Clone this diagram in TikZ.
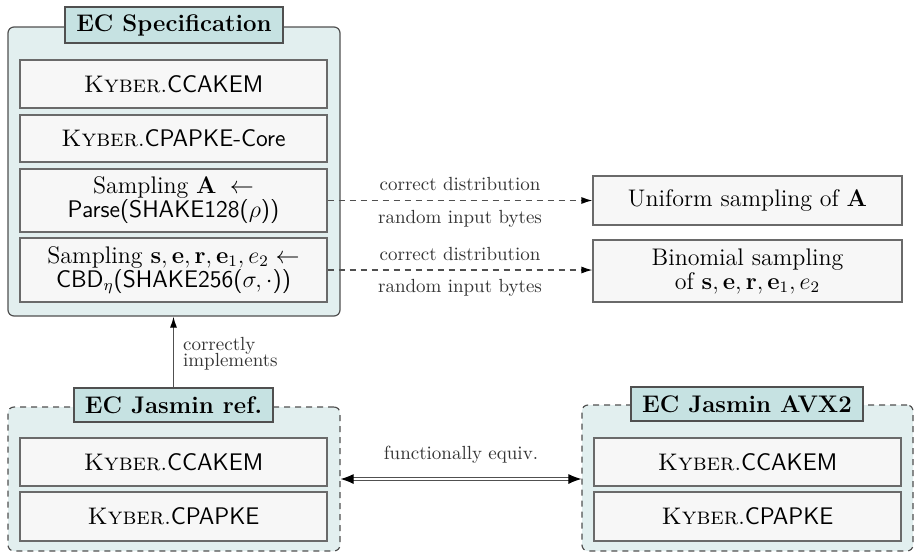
\documentclass[tikz,border=0pt]{standalone}
\usepackage{amsmath}
\usetikzlibrary{arrows.meta,fit}
\definecolor{boxfill}{HTML}{E2EFEF}
\definecolor{titlefill}{HTML}{C6E2E2}
\definecolor{partfill}{HTML}{F7F7F7}
\definecolor{edge}{HTML}{505050}
\definecolor{partedge}{HTML}{6A6A6A}
\definecolor{labelgray}{HTML}{333333}
\newcommand{\kyb}[1]{\textsc{Kyber}.\textsf{#1}}
\tikzset{
  outerbox/.style={draw=edge, fill=boxfill, rounded corners=3pt, line width=0.6pt, inner sep=0pt},
  dashedbox/.style={outerbox, dash pattern=on 3pt off 2.5pt},
  titlebox/.style={draw=edge, fill=titlefill, line width=0.6pt, font=\large\bfseries, inner sep=0pt},
  partbox/.style={draw=partedge, fill=partfill, line width=0.6pt, font=\large, align=center,
    inner sep=0pt, minimum width=153.5pt},
  edgelabel/.style={font=\fontsize{9.5}{11}\selectfont, text=labelgray, inner sep=1.5pt},
  flow/.style={draw=edge, line width=0.6pt, -{Latex[length=5.5pt,width=3.5pt,black]}},
  equiv/.style={draw=edge, line width=0.5pt, double distance=1.3pt,
    {Latex[length=6.5pt,width=5pt,black]}-{Latex[length=6.5pt,width=5pt,black]}},
}
\begin{document}
\begin{tikzpicture}[x=0.5pt, y=-0.5pt]
\useasboundingbox (0,0) rectangle (915,553);

% specification container
\coordinate (spa) at (8,27);
\coordinate (spb) at (340,316);
\node[outerbox, fit=(spa)(spb)] (spec) {};
\node[titlebox, minimum width=109pt, minimum height=18pt] (spectitle) at (174,25) {EC Specification};
\node[partbox, minimum height=24pt] (scca) at (173.5,84) {\kyb{CCAKEM}};
\node[partbox, minimum height=23.5pt] (scpa) at (173.5,138.5) {\kyb{CPAPKE-Core}};
\node[partbox, minimum height=31.5pt] (samA) at (173.5,200.5)
  {Sampling $\mathbf{A}\;\leftarrow$\\[-2pt] \textsf{Parse(SHAKE128(}$\rho$\textsf{))}};
\node[partbox, minimum height=32pt] (samS) at (173.5,270)
  {Sampling $\mathbf{s},\mathbf{e},\mathbf{r},\mathbf{e}_1,e_2\leftarrow$\\[-2pt]
   $\mathsf{CBD}_\eta$\textsf{(SHAKE256(}$\sigma,\cdot$\textsf{))}};

% ideal distributions
\node[partbox, minimum width=154.5pt, minimum height=24.5pt] (unif) at (747.5,200.5) {Uniform sampling of $\mathbf{A}$};
\node[partbox, minimum width=154.5pt, minimum height=31pt] (binom) at (747.5,271)
  {Binomial sampling\\[-2pt] of $\mathbf{s},\mathbf{e},\mathbf{r},\mathbf{e}_1,e_2$};

\draw[flow, dash pattern=on 3pt off 2.5pt] (samA.east) -- (unif.west)
  node[midway, above=3pt, edgelabel] {correct distribution}
  node[midway, below=3pt, edgelabel] {random input bytes};
\draw[flow, dash pattern=on 3pt off 2.5pt] (samS.east) -- (samS.east -| binom.west)
  node[midway, above=3pt, edgelabel] {correct distribution}
  node[midway, below=3pt, edgelabel] {random input bytes};

% Jasmin reference implementation
\coordinate (jra) at (8,407);
\coordinate (jrb) at (340,551);
\node[dashedbox, fit=(jra)(jrb)] (jref) {};
\node[titlebox, minimum width=99.5pt, minimum height=17pt] (jreftitle) at (173.5,405) {EC Jasmin ref.};
\node[partbox, minimum height=24pt] (jcca) at (173.5,462) {\kyb{CCAKEM}};
\node[partbox, minimum height=24.5pt] (jcpa) at (173.5,516.5) {\kyb{CPAPKE}};

% Jasmin AVX2 implementation
\coordinate (ava) at (582,405);
\coordinate (avb) at (913,551);
\node[dashedbox, fit=(ava)(avb)] (avx) {};
\node[titlebox, minimum width=116pt, minimum height=17pt] (avxtitle) at (747,404) {EC Jasmin AVX2};
\node[partbox, minimum height=24pt] (acca) at (747.5,462) {\kyb{CCAKEM}};
\node[partbox, minimum height=24.5pt] (acpa) at (747.5,516.5) {\kyb{CPAPKE}};

% relations between the layers
\draw[flow] (jreftitle.north) -- (jreftitle.north |- spec.south)
  node[midway, right=3pt, edgelabel, align=left, text depth=0pt] {correctly\\[-3pt]implements};
\draw[equiv] (jref.east) -- (jref.east -| avx.west)
  node[midway, above=6pt, edgelabel] {functionally equiv.};
\end{tikzpicture}
\end{document}
